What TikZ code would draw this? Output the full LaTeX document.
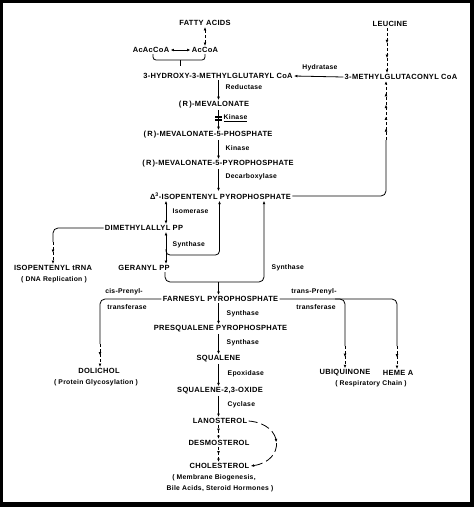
\documentclass[tikz,border=0pt]{standalone}
\usepackage{fontspec}
\setmainfont{Liberation Sans}[LetterSpace=4]
\usetikzlibrary{arrows.meta,decorations.markings}
\newcommand{\chemfont}{\bfseries\fontsize{7.5}{9}\selectfont}
\newcommand{\labfont}{\bfseries\fontsize{6.8}{8}\selectfont}
\begin{document}
\begin{tikzpicture}[x=1pt,y=-1pt,
  >={Latex[length=3.4pt,width=2.8pt]},
  chem/.style={font=\chemfont, inner sep=1.2pt},
  lab/.style={font=\labfont, inner sep=0.5pt, anchor=west},
  labc/.style={font=\labfont, inner sep=0.5pt},
  ln/.style={line width=0.8pt},
  conn/.style={ln, ->},
  dsh/.style={ln, dash pattern=on 3pt off 2pt},
  mtwo/.style={postaction={decorate,decoration={markings,
      mark=at position 0.5 with {\arrow{>}}}}},
  mthree/.style={postaction={decorate,decoration={markings,
      mark=at position 0.34 with {\arrow{>}},
      mark=at position 0.67 with {\arrow{>}}}}},
  msix/.style={postaction={decorate,decoration={markings,
      mark=at position 0.2 with {\arrow{>}},
      mark=at position 0.4 with {\arrow{>}},
      mark=at position 0.6 with {\arrow{>}},
      mark=at position 0.8 with {\arrow{>}}}}}
]
\useasboundingbox (0,0) rectangle (474,507);
\fill[black] (0,0) rectangle (474,507);
\fill[white] (3,3) rectangle (470,502);

% x reference coordinates
\coordinate (ax) at (218.5,0);
\coordinate (xl) at (387,0);
\coordinate (xi) at (166,0);

% compounds
\node[chem] (fa)    at (205,23)  {FATTY ACIDS};
\node[chem] (leu)   at (390,24)  {LEUCINE};
\node[chem] (acac)  at (151,50)  {AcAcCoA};
\node[chem] (accoa) at (205,50)  {AcCoA};
\node[chem] (hmg)   at (218,76)  {3-HYDROXY-3-METHYLGLUTARYL CoA};
\node[chem] (mgc)   at (401,77)  {3-METHYLGLUTACONYL CoA};
\node[chem] (mev)   at (214,105) {(\,R\,)-MEVALONATE};
\node[chem] (mfp)   at (208,135) {(\,R\,)-MEVALONATE-5-PHOSPHATE};
\node[chem] (mfpp)  at (218,164) {(\,R\,)-MEVALONATE-5-PYROPHOSPHATE};
\node[chem] (ipp)   at (220.5,196) {Δ\textsuperscript{3}-ISOPENTENYL PYROPHOSPHATE};
\node[chem] (dmapp) at (144,228) {DIMETHYLALLYL PP};
\node[chem] (iptrna) at (53,268) {ISOPENTENYL tRNA};
\node[labc] (dna)   at (54,280)  {( DNA Replication )};
\node[chem] (gpp)   at (144,268) {GERANYL PP};
\node[chem] (fpp)   at (220.5,299) {FARNESYL PYROPHOSPHATE};
\node[chem] (psq)   at (220.5,329) {PRESQUALENE PYROPHOSPHATE};
\node[chem] (sq)    at (218.5,359) {SQUALENE};
\node[chem] (sqo)   at (220,391) {SQUALENE-2,3-OXIDE};
\node[chem] (lan)   at (220,421) {LANOSTEROL};
\node[chem] (des)   at (219,443) {DESMOSTEROL};
\node[chem] (chol)  at (219.5,466) {CHOLESTEROL};
\node[labc] (memb)  at (214,478) {( Membrane Biogenesis,};
\node[labc] (bile)  at (220,489) {Bile Acids, Steroid Hormones )};
\node[chem] (dol)   at (99,371)  {DOLICHOL};
\node[labc] (prot)  at (96,383)  {( Protein Glycosylation )};
\node[chem] (ubi)   at (345,373) {UBIQUINONE};
\node[chem] (heme)  at (398,373) {HEME A};
\node[labc] (resp)  at (371,384) {( Respiratory Chain )};

% enzyme labels
\node[labc] (hyd)  at (320,68)  {Hydratase};
\node[lab]  (red)  at (225,87)  {Reductase};
\node[lab]  (kina) at (223,118) {\underline{Kinase}};
\node[lab]  (kinb) at (225,148) {Kinase};
\node[lab]  (dec)  at (225,177) {Decarboxylase};
\node[lab]  (iso)  at (172,211) {Isomerase};
\node[lab]  (syna) at (172,245) {Synthase};
\node[lab]  (synb) at (271,268) {Synthase};
\node[labc] (cisa) at (124,292) {cis-Prenyl-};
\node[labc] (cisb) at (127,307) {transferase};
\node[labc] (tra)  at (314,292) {trans-Prenyl-};
\node[labc] (trb)  at (316,307) {transferase};
\node[lab]  (sync) at (226,314) {Synthase};
\node[lab]  (synd) at (226,343) {Synthase};
\node[lab]  (epo)  at (227,374) {Epoxidase};
\node[lab]  (cyc)  at (227,405) {Cyclase};

% top
\draw[dsh,<->] (fa.south) -- (accoa.north);
\draw[ln,<->] (acac.east) -- (accoa.west);
\coordinate (b1) at (153,60);
\coordinate (b2) at (205,60);
\coordinate (b3) at (180,60);
\coordinate (b4) at (180,66);
\draw[ln,rounded corners=3pt] (acac.south -| b1) -- (b1) -- (b2) -- (accoa.south -| b2);
\draw[ln] (b3) -- (b4);
\draw[conn] (mgc.west) -- (hmg.east);
\draw[dsh,mthree,->] (leu.south -| xl) -- (mgc.north -| xl);

% main axis
\draw[conn] (hmg.south -| ax) -- (mev.north -| ax);
\node[fill=black, minimum width=6.5pt, minimum height=5pt, inner sep=0pt] (blk) at (218.5,118) {};
\draw[white, line width=0.6pt] (blk.west) -- (blk.east);
\draw[conn] (mev.south -| ax) -- (mfp.north -| ax);
\draw[conn] (mfp.south -| ax) -- (mfpp.north -| ax);
\draw[conn] (mfpp.south -| ax) -- (ipp.north -| ax);

% IPP to 3-methylglutaconyl CoA
\coordinate (r1) at (386,140);
\draw[ln,rounded corners=5pt] (ipp.east) -| (r1);
\draw[dsh,msix,->] (r1) -- (mgc.south -| r1);

% isomerase and DMAPP branch
\draw[ln,<->] (ipp.south -| xi) -- (dmapp.north -| xi);
\draw[ln,<->] (dmapp.south -| xi) -- (gpp.north -| xi);
\coordinate (j1) at (166,249);
\coordinate (j2) at (219.5,255);
\draw[ln,->,rounded corners=4pt] (j1) |- (j2) -- (ipp.south -| j2);

\coordinate (d1) at (53,228);
\coordinate (d2) at (53,242);
\draw[ln,rounded corners=5pt] (dmapp.west) -- (d1) -- (d2);
\draw[dsh,mtwo,->] (d2) -- (iptrna.north -| d2);

% GPP + IPP -> FPP
\coordinate (g1) at (165,282);
\coordinate (g2) at (264,282);
\draw[ln,->,rounded corners=5pt] (gpp.south -| g1) -- (g1) -- (g2) -- (ipp.south -| g2);
\draw[conn] (g1 -| ax) -- (fpp.north -| ax);

% cis branch
\coordinate (c1) at (100,299);
\coordinate (c2) at (100,344);
\draw[ln,rounded corners=5pt] (fpp.west) -- (c1) -- (c2);
\draw[dsh,mtwo,->] (c2) -- (dol.north -| c2);

% trans branches
\coordinate (t1) at (397,299);
\coordinate (t2) at (397,346);
\coordinate (u0) at (335,299);
\coordinate (u1) at (345,299);
\coordinate (u2) at (345,346);
\draw[ln,rounded corners=5pt] (fpp.east) -- (t1) -- (t2);
\draw[ln,rounded corners=5pt] (u0) -- (u1) -- (u2);
\draw[dsh,mtwo,->] (u2) -- (ubi.north -| u2);
\draw[dsh,mtwo,->] (t2) -- (heme.north -| t2);

% lower axis
\draw[conn] (fpp.south -| ax) -- (psq.north -| ax);
\draw[conn] (psq.south -| ax) -- (sq.north -| ax);
\draw[conn] (sq.south -| ax) -- (sqo.north -| ax);
\draw[conn] (sqo.south -| ax) -- (lan.north -| ax);
\draw[dsh,mtwo,->] (lan.south -| ax) -- (des.north -| ax);
\draw[dsh,mtwo,->] (des.south -| ax) -- (chol.north -| ax);
\draw[ln,dash pattern=on 9pt off 4pt,mtwo,->] (lan.east) .. controls (285,424) and (285,461) .. (chol.east);
\end{tikzpicture}
\end{document}
